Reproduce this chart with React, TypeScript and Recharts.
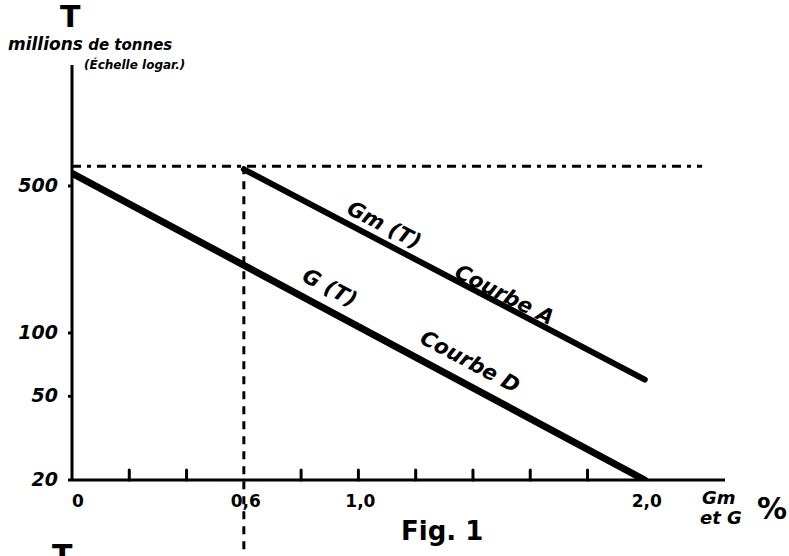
import React from 'react';
import { LineChart, Line, XAxis, YAxis, ReferenceLine, ReferenceDot } from 'recharts';

// Courbe D : G(T), Courbe A : Gm(T) — T en millions de tonnes (échelle log)
const curveD = [
  { x: 0, t: 575 },
  { x: 2.0, t: 20 },
];
const curveA = [
  { x: 0.6, t: 600 },
  { x: 2.0, t: 60 },
];

const xTicks = [0, 0.2, 0.4, 0.6, 0.8, 1.0, 1.2, 1.4, 1.6, 1.8, 2.0];
const xLabels: Record<string, string> = { '0': '0', '0.6': '0,6', '1': '1,0', '2': '2,0' };
const yTicks = [20, 50, 100, 500];

const seuilT = 620;
const seuilX = 0.6;

const curveLabels = [
  { x: 1.09, t: 326, text: 'Gm (T)', angle: 27 },
  { x: 1.51, t: 152, text: 'Courbe A', angle: 27 },
  { x: 0.9, t: 164, text: 'G (T)', angle: 28 },
  { x: 1.39, t: 73, text: 'Courbe D', angle: 28 },
];

const ink = '#000';
const hand = '"DejaVu Sans", sans-serif';

const XTick = (props: any) => {
  const { x, y, payload } = props;
  const v = Number(payload.value);
  const key = String(Math.round(v * 10) / 10);
  const stub = v > 0.05 && Math.abs(v - 0.6) > 0.05 && v < 1.95;
  return (
    <g>
      {stub && <line x1={x} x2={x} y1={y} y2={y - 10} stroke={ink} strokeWidth={3} strokeLinecap="round" />}
      {xLabels[key] && (
        <text x={x + (v === 0 ? 6 : 2)} y={y + 27} textAnchor="middle" fontFamily={hand} fontWeight="bold" fontSize={17} fill={ink}>
          {xLabels[key]}
        </text>
      )}
    </g>
  );
};

const YTick = (props: any) => {
  const { x, y, payload } = props;
  return (
    <text x={x} y={y} dy={6} textAnchor="end" fontFamily={hand} fontWeight="bold" fontStyle="italic" fontSize={19} fill={ink}>
      {payload.value}
    </text>
  );
};

const App = () => {
  return (
    <div style={{ position: 'absolute', left: 0, top: 0, width: 789, height: 556, background: '#fff', overflow: 'hidden', fontFamily: hand, color: ink }}>
      <LineChart width={789} height={556} margin={{ top: 65, right: 64, bottom: 0, left: 0 }}>
        <XAxis
          dataKey="x"
          type="number"
          domain={[0, 2.28]}
          ticks={xTicks}
          allowDataOverflow
          height={76}
          axisLine={{ stroke: ink, strokeWidth: 3 }}
          tickLine={false}
          tickSize={0}
          tickMargin={0}
          tick={<XTick />}
          interval={0}
        />
        <YAxis
          dataKey="t"
          scale="log"
          type="number"
          domain={[20, 1880]}
          ticks={yTicks}
          allowDataOverflow
          width={72}
          axisLine={{ stroke: ink, strokeWidth: 3 }}
          tickLine={{ stroke: ink, strokeWidth: 3 }}
          tickSize={4}
          tickMargin={10}
          tick={<YTick />}
          interval={0}
        />
        <ReferenceLine
          segment={[{ x: 0, y: seuilT }, { x: 2.2, y: seuilT }]}
          stroke={ink}
          strokeWidth={3}
          strokeDasharray="9 6 4 6"
          ifOverflow="visible"
        />
        <ReferenceLine
          segment={[{ x: seuilX, y: seuilT }, { x: seuilX, y: 8.5 }]}
          stroke={ink}
          strokeWidth={3}
          strokeDasharray="8 7"
          ifOverflow="visible"
        />
        <Line data={curveD} dataKey="t" stroke={ink} strokeWidth={7} strokeLinecap="round" dot={false} isAnimationActive={false} />
        <Line data={curveA} dataKey="t" stroke={ink} strokeWidth={6} strokeLinecap="round" dot={false} isAnimationActive={false} />
        {curveLabels.map((l) => (
          <ReferenceDot
            key={l.text}
            x={l.x}
            y={l.t}
            r={0}
            shape={(p: any) => (
              <text
                x={p.cx}
                y={p.cy}
                transform={`rotate(${l.angle} ${p.cx} ${p.cy})`}
                textAnchor="middle"
                dominantBaseline="central"
                fontFamily={hand}
                fontWeight="bold"
                fontStyle="italic"
                fontSize={21}
                fill={ink}
              >
                {l.text}
              </text>
            )}
          />
        ))}
      </LineChart>

      <div style={{ position: 'absolute', left: 60, top: 2, fontSize: 30, fontWeight: 'bold', lineHeight: 1 }}>T</div>
      <div style={{ position: 'absolute', left: 8, top: 35, fontSize: 15, fontWeight: 'bold', fontStyle: 'italic', whiteSpace: 'nowrap', lineHeight: 1.1 }}>
        <span style={{ fontSize: 17 }}>millions</span> de tonnes
      </div>
      <div style={{ position: 'absolute', left: 84, top: 59, fontSize: 12, fontWeight: 'bold', fontStyle: 'italic', whiteSpace: 'nowrap', lineHeight: 1 }}>
        (Échelle logar.)
      </div>
      <div style={{ position: 'absolute', left: 401, top: 516, fontSize: 26, fontWeight: 'bold', whiteSpace: 'nowrap' }}>Fig. 1</div>
      <div style={{ position: 'absolute', left: 702, top: 489, fontSize: 18, fontWeight: 'bold', fontStyle: 'italic', lineHeight: 1 }}>Gm</div>
      <div style={{ position: 'absolute', left: 700, top: 509, fontSize: 18, fontWeight: 'bold', fontStyle: 'italic', lineHeight: 1, whiteSpace: 'nowrap' }}>et G</div>
      <div style={{ position: 'absolute', left: 757, top: 494, fontSize: 30, fontWeight: 'bold', lineHeight: 1 }}>%</div>
      <div style={{ position: 'absolute', left: 52, top: 541, fontSize: 30, fontWeight: 'bold', lineHeight: 1 }}>T</div>
    </div>
  );
};

export default App;
